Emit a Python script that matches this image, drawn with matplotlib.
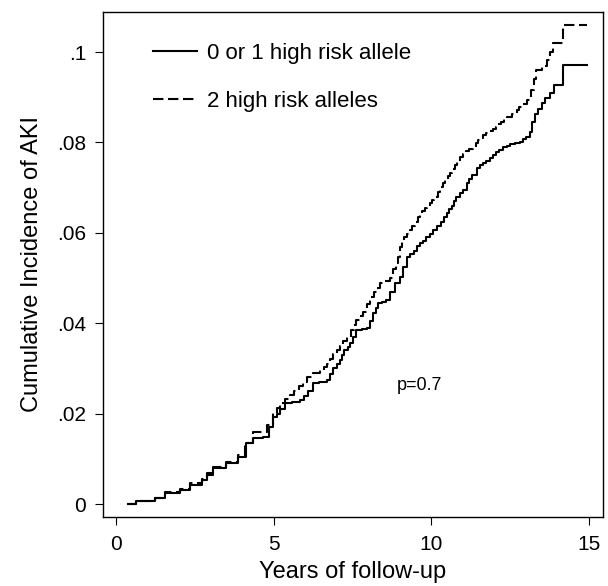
import matplotlib
matplotlib.use('Agg')
import matplotlib.pyplot as plt

plt.rcParams['font.family'] = ['Liberation Sans', 'DejaVu Sans']

# Step times / cumulative incidence
t_low = [0.39, 0.65, 1.24, 1.55, 2.03, 2.35, 2.72, 2.9, 3.08, 3.5, 3.88, 4.14,
         4.35, 4.67, 4.85, 4.99, 5.1, 5.2, 5.36, 5.6, 5.84, 5.95, 6.1, 6.25,
         6.45, 6.68, 6.8, 6.9, 7.0, 7.1, 7.18, 7.25, 7.35, 7.42, 7.52, 7.63,
         7.8, 7.95, 8.05, 8.16, 8.24, 8.31, 8.45, 8.58, 8.7, 8.85, 9.0, 9.1,
         9.22, 9.33, 9.45, 9.55, 9.64, 9.75, 9.85, 9.95, 10.06, 10.18, 10.3,
         10.4, 10.49, 10.57, 10.65, 10.72, 10.8, 10.9, 11.0, 11.12, 11.2, 11.3,
         11.44, 11.55, 11.65, 11.75, 11.86, 11.95, 12.05, 12.15, 12.28, 12.4,
         12.5, 12.65, 12.81, 12.9, 13.0, 13.13, 13.2, 13.29, 13.4, 13.5, 13.62,
         13.76, 13.88, 14.18, 14.93]
ci_low = [0.0, 0.0007, 0.0013, 0.0024, 0.0031, 0.0042, 0.0053, 0.0065, 0.008,
          0.009, 0.0105, 0.0134, 0.0146, 0.0149, 0.017, 0.0193, 0.020, 0.021,
          0.0223, 0.0226, 0.023, 0.024, 0.025, 0.0267, 0.027, 0.0274, 0.0287,
          0.030, 0.031, 0.0319, 0.033, 0.034, 0.0348, 0.0356, 0.037, 0.0385,
          0.0387, 0.0389, 0.0405, 0.0422, 0.0433, 0.0444, 0.0448, 0.0451, 0.047,
          0.0488, 0.0503, 0.0525, 0.0547, 0.0553, 0.056, 0.057, 0.0577, 0.0583,
          0.059, 0.0598, 0.0606, 0.0615, 0.0625, 0.0634, 0.0643, 0.0652, 0.066,
          0.067, 0.068, 0.0688, 0.0695, 0.071, 0.0719, 0.0728, 0.0743, 0.0749,
          0.0755, 0.076, 0.0765, 0.0772, 0.0778, 0.0784, 0.079, 0.0793, 0.0796,
          0.0799, 0.0802, 0.0807, 0.0812, 0.0824, 0.0845, 0.0864, 0.0875,
          0.0887, 0.0898, 0.0909, 0.0927, 0.0971, 0.0971]

t_high = [0.39, 0.65, 1.24, 1.55, 2.03, 2.35, 2.72, 2.9, 3.08, 3.5, 3.88, 4.1,
          4.36, 4.78, 4.99, 5.1, 5.2, 5.35, 5.52, 5.65, 5.8, 5.92, 6.05, 6.25,
          6.47, 6.6, 6.7, 6.8, 6.9, 7.0, 7.1, 7.2, 7.32, 7.45, 7.55, 7.63, 7.74,
          7.84, 7.95, 8.06, 8.2, 8.28, 8.37, 8.5, 8.69, 8.8, 8.88, 8.95, 9.01,
          9.08, 9.15, 9.24, 9.32, 9.4, 9.5, 9.57, 9.64, 9.72, 9.8, 9.88, 9.96,
          10.03, 10.1, 10.2, 10.28, 10.36, 10.45, 10.52, 10.59, 10.67, 10.75,
          10.83, 10.91, 11.0, 11.1, 11.2, 11.33, 11.42, 11.5, 11.58, 11.65,
          11.75, 11.85, 11.95, 12.07, 12.13, 12.2, 12.3, 12.39, 12.55, 12.71,
          12.8, 12.9, 13.03, 13.13, 13.18, 13.26, 13.34, 13.5, 13.66, 13.76,
          13.86, 14.18, 14.93]
ci_high = [0.0, 0.0007, 0.0013, 0.0026, 0.0033, 0.0046, 0.0055, 0.0068, 0.0082,
           0.0092, 0.0108, 0.0135, 0.016, 0.0175, 0.0201, 0.0212, 0.0223,
           0.0232, 0.0241, 0.025, 0.026, 0.027, 0.0282, 0.0289, 0.0296, 0.0303,
           0.031, 0.032, 0.0333, 0.034, 0.035, 0.036, 0.037, 0.0385, 0.0396,
           0.0407, 0.0416, 0.0425, 0.0442, 0.0459, 0.047, 0.0479, 0.0488,
           0.0493, 0.0499, 0.052, 0.0533, 0.0547, 0.0569, 0.058, 0.059, 0.0598,
           0.0606, 0.0615, 0.0625, 0.0634, 0.0643, 0.0649, 0.0655, 0.066,
           0.0665, 0.0672, 0.068, 0.0691, 0.0702, 0.071, 0.0718, 0.0725, 0.0732,
           0.0741, 0.075, 0.0759, 0.0768, 0.0774, 0.078, 0.0785, 0.079, 0.0798,
           0.0805, 0.081, 0.0816, 0.082, 0.0825, 0.083, 0.0835, 0.084, 0.0845,
           0.0851, 0.0857, 0.0864, 0.0872, 0.0878, 0.0885, 0.0894, 0.090,
           0.0916, 0.094, 0.096, 0.097, 0.0982, 0.100, 0.102, 0.106, 0.106]

x_ticks = [0, 5, 10, 15]
y_ticks = [0, 0.02, 0.04, 0.06, 0.08, 0.1]
y_ticklabels = ['0', '.02', '.04', '.06', '.08', '.1']

fig = plt.figure(figsize=(6.08, 5.86), dpi=100)
ax = fig.add_axes([0.1689, 0.1177, 0.8229, 0.8623])

ax.step(t_low, ci_low, where='post', color='black', lw=1.5,
        label='0 or 1 high risk allele')
ax.step(t_high, ci_high, where='post', color='black', lw=1.5,
        dashes=(5, 2.2), label='2 high risk alleles')

ax.set_xlim(-0.42, 15.45)
ax.set_ylim(-0.00288, 0.10892)
ax.set_xticks(x_ticks)
ax.set_yticks(y_ticks)
ax.set_yticklabels(y_ticklabels)
ax.tick_params(direction='out', length=6, width=0.8, labelsize=15, pad=6)
ax.tick_params(axis='x', pad=7)
for s in ax.spines.values():
    s.set_linewidth(1.0)

ax.set_xlabel('Years of follow-up', fontsize=17, labelpad=5)
ax.set_ylabel('Cumulative Incidence of AKI', fontsize=17, labelpad=10)

ax.text(8.9, 0.0263, 'p=0.7', fontsize=13, va='center', ha='left')

ax.legend(loc='upper left', bbox_to_anchor=(0.1005, 0.938), frameon=False,
          fontsize=16, handlelength=2.0, handletextpad=0.45, labelspacing=1.2,
          borderpad=0, borderaxespad=0)

fig.savefig('out.png', dpi=100)
